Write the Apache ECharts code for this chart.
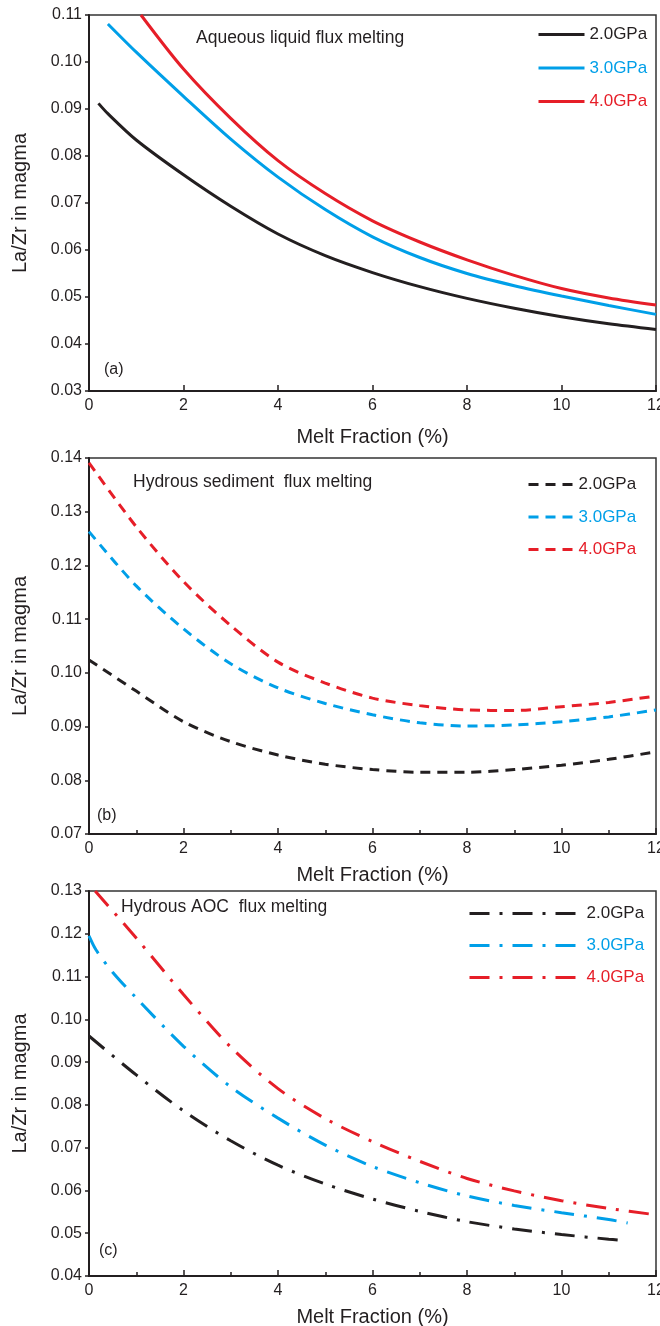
<!DOCTYPE html>
<html>
<head>
<meta charset="utf-8">
<script src="https://cdn.jsdelivr.net/npm/echarts@6/dist/echarts.min.js"></script>
<style>
  html, body { margin: 0; padding: 0; background: #fff; }
  #chart { width: 660px; height: 1326px; }
</style>
</head>
<body>
<div id="chart"></div>
<script>
// (a) aqueous liquid flux melting, solid lines
var a20x = [0.2, 0.4, 1, 2, 3, 4, 5, 6, 7, 8, 9, 10, 11, 12];
var a20y = [0.0912, 0.0890, 0.0834, 0.0760, 0.0693, 0.0634, 0.0588, 0.0552, 0.0522, 0.0497, 0.0476, 0.0458, 0.0443, 0.0431];
var a30x = [0.4, 1, 2, 3, 4, 5, 6, 7, 8, 9, 10, 11, 12];
var a30y = [0.1081, 0.1021, 0.0927, 0.0836, 0.0755, 0.0686, 0.0628, 0.0584, 0.0550, 0.0524, 0.0502, 0.0482, 0.0463];
var a40x = [1.1, 2, 3, 4, 5, 6, 7, 8, 9, 10, 11, 12];
var a40y = [0.1100, 0.0985, 0.0880, 0.0790, 0.0720, 0.0662, 0.0617, 0.0579, 0.0546, 0.0518, 0.0498, 0.0483];

// (b) hydrous sediment flux melting, dashed
var b20x = [0, 1, 2, 3, 4, 5, 6, 7, 8, 9, 10, 11, 12];
var b20y = [0.1024, 0.0966, 0.0909, 0.0872, 0.0847, 0.0830, 0.0820, 0.0815, 0.0815, 0.0820, 0.0828, 0.0839, 0.0853];
var b30x = [0, 1, 2, 3, 4, 5, 6, 7, 8, 9, 10, 11, 12];
var b30y = [0.1263, 0.1162, 0.1082, 0.1017, 0.0972, 0.0943, 0.0922, 0.0907, 0.0901, 0.0903, 0.0909, 0.0918, 0.0931];
var b40x = [0, 1, 2, 3, 4, 5, 6, 7, 8, 9, 10, 11, 12];
var b40y = [0.1391, 0.1272, 0.1170, 0.1088, 0.1020, 0.0981, 0.0953, 0.0939, 0.0931, 0.0930, 0.0937, 0.0945, 0.0957];

// (c) hydrous AOC flux melting, dash-dot
var c20x = [0, 1, 2, 3, 4, 5, 6, 7, 8, 9, 10, 11, 11.2];
var c20y = [0.0961, 0.0870, 0.0786, 0.0716, 0.0659, 0.0615, 0.0580, 0.0551, 0.0527, 0.0510, 0.0497, 0.0486, 0.0484];
var c30x = [0, 0.15, 0.5, 1, 2, 3, 4, 5, 6, 7, 8, 9, 10, 11, 11.4];
var c30y = [0.1195, 0.1162, 0.1110, 0.1050, 0.0937, 0.0842, 0.0769, 0.0706, 0.0656, 0.0618, 0.0587, 0.0565, 0.0548, 0.0532, 0.0524];
var c40x = [0.13, 1, 2, 3, 4, 5, 6, 7, 8, 9, 10, 11, 12];
var c40y = [0.1300, 0.1190, 0.1058, 0.0935, 0.0838, 0.0768, 0.0714, 0.0668, 0.0628, 0.0599, 0.0576, 0.0558, 0.0543];

var pressures = ["2.0GPa", "3.0GPa", "4.0GPa"];
var colors = ["#231f20", "#009fe8", "#e61e28"];
var titles = ["Aqueous liquid flux melting", "Hydrous sediment  flux melting", "Hydrous AOC  flux melting"];
var tags = ["(a)", "(b)", "(c)"];

var FONT = "'Liberation Sans', Arial, sans-serif";

function zip(xs, ys) {
  var out = [];
  for (var i = 0; i < xs.length; i++) out.push([xs[i], ys[i]]);
  return out;
}

var chart = echarts.init(document.getElementById("chart"));

var grids = [
  { left: 89, right: 4, top: 15, height: 376 },
  { left: 89, right: 4, top: 458, height: 376 },
  { left: 89, right: 4, top: 891, height: 385 }
];
grids.forEach(function (g) {
  g.show = true;
  g.borderColor = "#333";
  g.borderWidth = 1.5;
  g.backgroundColor = "transparent";
  g.containLabel = false;
  g.outerBoundsMode = "none";
});

var yRanges = [[0.03, 0.11], [0.07, 0.14], [0.04, 0.13]];
var nameGaps = [36, 31, 31];

var xAxes = [], yAxes = [];
for (var i = 0; i < 3; i++) {
  xAxes.push({
    type: "value",
    gridIndex: i,
    min: 0,
    max: 12,
    interval: 2,
    name: "Melt Fraction (%)",
    nameLocation: "middle",
    nameGap: nameGaps[i],
    nameTextStyle: { fontFamily: FONT, fontSize: 20, color: "#231f20" },
    axisLine: { show: true, lineStyle: { color: "#231f20", width: 2 } },
    axisTick: { show: true, inside: true, length: 6, lineStyle: { color: "#231f20", width: 1.5 } },
    minorTick: { show: i > 0, splitNumber: 2, length: 4, lineStyle: { color: "#231f20", width: 1.5 } },
    axisLabel: { fontFamily: FONT, fontSize: 16, color: "#231f20", margin: 7, hideOverlap: false },
    splitLine: { show: false }
  });
  yAxes.push({
    type: "value",
    gridIndex: i,
    min: yRanges[i][0],
    max: yRanges[i][1],
    interval: 0.01,
    name: "La/Zr in magma",
    nameLocation: "middle",
    nameGap: 59,
    nameTextStyle: { fontFamily: FONT, fontSize: 20, color: "#231f20" },
    axisLine: { show: true, lineStyle: { color: "#231f20", width: 2 } },
    axisTick: { show: true, inside: false, length: 4, lineStyle: { color: "#231f20", width: 1.5 } },
    axisLabel: {
      fontFamily: FONT, fontSize: 16, color: "#231f20", margin: 7,
      formatter: function (v) { return v.toFixed(2); }
    },
    splitLine: { show: false }
  });
}

var panelData = [
  [zip(a20x, a20y), zip(a30x, a30y), zip(a40x, a40y)],
  [zip(b20x, b20y), zip(b30x, b30y), zip(b40x, b40y)],
  [zip(c20x, c20y), zip(c30x, c30y), zip(c40x, c40y)]
];
var dashTypes = ["solid", [10, 7], [20, 10, 3, 10]];
var prefixes = ["a:", "b:", "c:"];

var series = [];
for (var p = 0; p < 3; p++) {
  for (var k = 0; k < 3; k++) {
    series.push({
      name: prefixes[p] + pressures[k],
      type: "line",
      xAxisIndex: p,
      yAxisIndex: p,
      data: panelData[p][k],
      smooth: 0.3,
      symbol: "none",
      clip: true,
      lineStyle: { color: colors[k], width: 3, type: dashTypes[p], cap: "butt" },
      itemStyle: { color: colors[k] },
      emphasis: { disabled: true }
    });
  }
}

var legendPos = [
  { left: 537, top: 26, itemWidth: 46, itemGap: 16.5 },
  { left: 527, top: 476, itemWidth: 45, itemGap: 15.5 },
  { left: 468, top: 905, itemWidth: 112, itemGap: 15 }
];
var legends = legendPos.map(function (lp, p) {
  return {
    orient: "vertical",
    left: lp.left,
    top: lp.top,
    padding: 0,
    itemWidth: lp.itemWidth,
    itemHeight: 14,
    itemGap: lp.itemGap,
    selectedMode: false,
    itemStyle: { opacity: 0 },
    lineStyle: { width: 3 },
    formatter: function (name) { return name.slice(2); },
    data: pressures.map(function (pr, k) {
      return { name: prefixes[p] + pr, textStyle: { color: colors[k], fontFamily: FONT, fontSize: 17 } };
    })
  };
});

var textPos = [
  { title: [196, 38], tag: [104, 371] },
  { title: [133, 482], tag: [97, 817] },
  { title: [121, 907], tag: [99, 1252] }
];
var graphics = [];
textPos.forEach(function (tp, p) {
  graphics.push({
    type: "text", left: tp.title[0], top: tp.title[1] - 9,
    style: { text: titles[p], font: "17.5px " + FONT, fill: "#231f20" }
  });
  graphics.push({
    type: "text", left: tp.tag[0], top: tp.tag[1] - 9,
    style: { text: tags[p], font: "16px " + FONT, fill: "#231f20" }
  });
});

var option = {
  backgroundColor: "#fff",
  animation: false,
  grid: grids,
  xAxis: xAxes,
  yAxis: yAxes,
  legend: legends,
  series: series,
  graphic: graphics
};
chart.setOption(option);
window.addEventListener("resize", function () { chart.resize(); });
</script>
</body>
</html>
